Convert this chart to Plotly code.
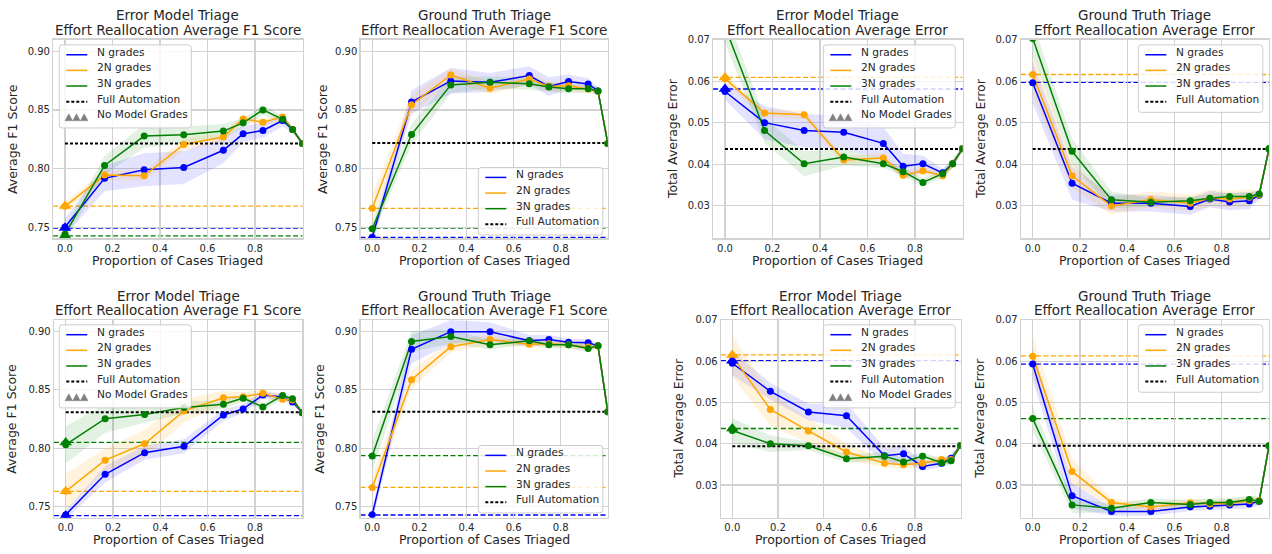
import plotly.graph_objects as go

W, H = 1272, 554
TB = 3.0  # plotly draws centred text slightly low; lift text centres by this many px

# ---------------- data ----------------
x_prop = [0, 1/6, 1/3, 1/2, 2/3, 3/4, 5/6, 11/12, 23/24, 1.0]
x_ticks = [0.0, 0.2, 0.4, 0.6, 0.8]
f1_ticks = [0.75, 0.80, 0.85, 0.90]
err_ticks = [0.03, 0.04, 0.05, 0.06, 0.07]
series_names = ["N grades", "2N grades", "3N grades"]

# Panel 1: Error Model Triage, F1 (top)
p1_n = [0.7505, 0.7918, 0.7991, 0.8010, 0.8157, 0.8297, 0.8325, 0.8410, 0.8333, 0.8215]
p1_2n = [0.7680, 0.7946, 0.7940, 0.8207, 0.8269, 0.8424, 0.8396, 0.8441, 0.8333, 0.8215]
p1_3n = [0.7443, 0.8028, 0.8278, 0.8289, 0.8320, 0.8390, 0.8500, 0.8420, 0.8333, 0.8215]
p1_n_err = [0.007, 0.011, 0.014, 0.014, 0.011, 0.007, 0.006, 0.005, 0.003, 0.001]
p1_2n_err = [0.004, 0.004, 0.004, 0.005, 0.004, 0.003, 0.003, 0.003, 0.002, 0.001]
p1_3n_err = [0.005, 0.008, 0.010, 0.007, 0.006, 0.004, 0.004, 0.003, 0.002, 0.001]
p1_levels = [0.7496, 0.7682, 0.7429]
p1_full = 0.8215

# Panel 2: Ground Truth Triage, F1 (top)
p2_n = [0.7418, 0.8567, 0.8747, 0.8735, 0.8792, 0.8699, 0.8741, 0.8721, 0.8662, 0.8215]
p2_2n = [0.7663, 0.8544, 0.8797, 0.8685, 0.8763, 0.8699, 0.8705, 0.8679, 0.8660, 0.8215]
p2_3n = [0.7489, 0.8291, 0.8713, 0.8735, 0.8722, 0.8696, 0.8680, 0.8680, 0.8662, 0.8215]
p2_n_err = [0.006, 0.010, 0.011, 0.008, 0.008, 0.008, 0.006, 0.005, 0.003, 0.001]
p2_2n_err = [0.012, 0.008, 0.006, 0.005, 0.005, 0.004, 0.004, 0.004, 0.003, 0.001]
p2_3n_err = [0.006, 0.009, 0.007, 0.005, 0.005, 0.004, 0.004, 0.003, 0.003, 0.001]
p2_levels = [0.7415, 0.7663, 0.7494]
p2_full = 0.8218

# Panel 3: Error Model Triage, error (top)
p3_n = [0.0575, 0.0500, 0.0481, 0.0477, 0.0450, 0.0395, 0.0401, 0.0379, 0.0401, 0.0437]
p3_2n = [0.0606, 0.0523, 0.0519, 0.0410, 0.0415, 0.0373, 0.0384, 0.0372, 0.0401, 0.0437]
p3_3n = [0.0732, 0.0481, 0.0401, 0.0417, 0.0401, 0.0382, 0.0356, 0.0377, 0.0401, 0.0437]
p3_n_err = [0.002, 0.004, 0.004, 0.004, 0.004, 0.003, 0.002, 0.001, 0.001, 0.0005]
p3_2n_err = [0.001, 0.001, 0.001, 0.001, 0.001, 0.001, 0.001, 0.001, 0.001, 0.0005]
p3_3n_err = [0.004, 0.003, 0.003, 0.002, 0.001, 0.001, 0.001, 0.001, 0.001, 0.0005]
p3_levels = [0.0581, 0.0609, 0.0735]
p3_full = 0.04368

# Panel 4: Ground Truth Triage, error (top)
p4_n = [0.0596, 0.0354, 0.0306, 0.0306, 0.0298, 0.0316, 0.0309, 0.0312, 0.0325, 0.0437]
p4_2n = [0.0616, 0.0372, 0.0299, 0.0315, 0.0306, 0.0318, 0.0316, 0.0320, 0.0326, 0.0437]
p4_3n = [0.0703, 0.0431, 0.0314, 0.0308, 0.0312, 0.0318, 0.0322, 0.0322, 0.0328, 0.0437]
p4_n_err = [0.005, 0.004, 0.002, 0.002, 0.002, 0.002, 0.002, 0.002, 0.001, 0.0005]
p4_2n_err = [0.005, 0.003, 0.002, 0.002, 0.002, 0.002, 0.002, 0.002, 0.001, 0.0005]
p4_3n_err = [0.004, 0.003, 0.002, 0.001, 0.001, 0.001, 0.001, 0.001, 0.001, 0.0005]
p4_levels = [0.0597, 0.0616, 0.0703]
p4_full = 0.04368

# Panel 5: Error Model Triage, F1 (bottom)
p5_n = [0.7433, 0.7778, 0.7963, 0.8017, 0.8285, 0.8337, 0.8455, 0.8438, 0.8396, 0.8305]
p5_2n = [0.7632, 0.7899, 0.8039, 0.8320, 0.8432, 0.8440, 0.8470, 0.8420, 0.8412, 0.8305]
p5_3n = [0.8031, 0.8253, 0.8289, 0.8348, 0.8376, 0.8429, 0.8354, 0.8452, 0.8424, 0.8305]
p5_n_err = [0.004, 0.007, 0.006, 0.006, 0.005, 0.004, 0.003, 0.003, 0.002, 0.001]
p5_2n_err = [0.015, 0.010, 0.012, 0.010, 0.006, 0.004, 0.004, 0.003, 0.002, 0.001]
p5_3n_err = [0.016, 0.012, 0.007, 0.005, 0.004, 0.003, 0.003, 0.003, 0.002, 0.001]
p5_levels = [0.7424, 0.7632, 0.8050]
p5_full = 0.8309

# Panel 6: Ground Truth Triage, F1 (bottom)
p6_n = [0.7433, 0.8846, 0.8997, 0.8997, 0.8919, 0.8930, 0.8907, 0.8902, 0.8876, 0.8312]
p6_2n = [0.7666, 0.8587, 0.8868, 0.8930, 0.8890, 0.8893, 0.8885, 0.8865, 0.8874, 0.8312]
p6_3n = [0.7935, 0.8913, 0.8955, 0.8885, 0.8919, 0.8885, 0.8885, 0.8854, 0.8876, 0.8312]
p6_n_err = [0.006, 0.012, 0.010, 0.008, 0.005, 0.004, 0.003, 0.003, 0.002, 0.001]
p6_2n_err = [0.010, 0.008, 0.005, 0.004, 0.003, 0.003, 0.003, 0.003, 0.002, 0.001]
p6_3n_err = [0.013, 0.009, 0.006, 0.004, 0.003, 0.003, 0.003, 0.003, 0.002, 0.001]
p6_levels = [0.7430, 0.7666, 0.7938]
p6_full = 0.8312

# Panel 7: Error Model Triage, error (bottom)
p7_n = [0.0595, 0.0527, 0.0477, 0.0468, 0.0371, 0.0376, 0.0345, 0.0353, 0.0365, 0.0396]
p7_2n = [0.0612, 0.0483, 0.0431, 0.0380, 0.0353, 0.0349, 0.0353, 0.0362, 0.0362, 0.0396]
p7_3n = [0.0432, 0.0400, 0.0395, 0.0364, 0.0370, 0.0356, 0.0370, 0.0354, 0.0359, 0.0396]
p7_n_err = [0.003, 0.002, 0.002, 0.003, 0.002, 0.002, 0.001, 0.001, 0.001, 0.0005]
p7_2n_err = [0.005, 0.004, 0.003, 0.002, 0.001, 0.001, 0.001, 0.001, 0.001, 0.0005]
p7_3n_err = [0.003, 0.002, 0.001, 0.001, 0.001, 0.001, 0.001, 0.001, 0.001, 0.0005]
p7_levels = [0.0601, 0.0615, 0.0437]
p7_full = 0.0394

# Panel 8: Ground Truth Triage, error (bottom)
p8_n = [0.0593, 0.0274, 0.0236, 0.0236, 0.0247, 0.0249, 0.0252, 0.0254, 0.0261, 0.0395]
p8_2n = [0.0612, 0.0333, 0.0258, 0.0247, 0.0257, 0.0254, 0.0256, 0.0262, 0.0262, 0.0395]
p8_3n = [0.0461, 0.0252, 0.0244, 0.0258, 0.0253, 0.0258, 0.0258, 0.0265, 0.0261, 0.0395]
p8_n_err = [0.004, 0.003, 0.001, 0.001, 0.001, 0.001, 0.001, 0.001, 0.001, 0.0005]
p8_2n_err = [0.005, 0.003, 0.001, 0.001, 0.001, 0.001, 0.001, 0.001, 0.001, 0.0005]
p8_3n_err = [0.003, 0.002, 0.001, 0.001, 0.001, 0.001, 0.001, 0.001, 0.001, 0.0005]
p8_levels = [0.0593, 0.0613, 0.0461]
p8_full = 0.0395

# ---------------- style ----------------
FONT = "DejaVu Sans"
TXT = "#262626"
GRID = "#d2d2d2"
COLORS = ["#0000ff", "#ffa500", "#008000"]
BANDS = ["rgba(0,0,255,0.11)", "rgba(255,165,0,0.13)", "rgba(0,128,0,0.11)"]
F1_RANGE = [0.7407, 0.9098]
ERR_RANGE = [0.0221, 0.0700]
FULL_DASH = "3px,2px"

EM = "Error Model Triage"
GT = "Ground Truth Triage"
F1T = "Effort Reallocation Average F1 Score"
ERT = "Effort Reallocation Average Error"


def px(X):
    return X / W


def py(Y):
    return 1 - Y / H


panels = [
    dict(means=[p1_n, p1_2n, p1_3n], errs=[p1_n_err, p1_2n_err, p1_3n_err], levels=p1_levels, full=p1_full,
         tri=True, t1=EM, t2=F1T, kind="f1", box=(53.1, 302.5, 34, 235), ytx=15, leg=(59.3, 39.3)),
    dict(means=[p2_n, p2_2n, p2_3n], errs=[p2_n_err, p2_2n_err, p2_3n_err], levels=p2_levels, full=p2_full,
         tri=False, t1=GT, t2=F1T, kind="f1", box=(360.5, 607.8, 34, 235), ytx=325, leg=(478.3, 163.3)),
    dict(means=[p3_n, p3_2n, p3_3n], errs=[p3_n_err, p3_2n_err, p3_3n_err], levels=p3_levels, full=p3_full,
         tri=True, t1=EM, t2=ERT, kind="err", box=(713.1, 962.5, 34, 235), ytx=675, leg=(823.3, 39.3)),
    dict(means=[p4_n, p4_2n, p4_3n], errs=[p4_n_err, p4_2n_err, p4_3n_err], levels=p4_levels, full=p4_full,
         tri=False, t1=GT, t2=ERT, kind="err", box=(1020.9, 1269, 34, 235), ytx=983, leg=(1138.3, 39.3)),
    dict(means=[p5_n, p5_2n, p5_3n], errs=[p5_n_err, p5_2n_err, p5_3n_err], levels=p5_levels, full=p5_full,
         tri=True, t1=EM, t2=F1T, kind="f1", box=(53.9, 302.3, 317.3, 517.3), ytx=15, leg=(59.3, 322.3)),
    dict(means=[p6_n, p6_2n, p6_3n], errs=[p6_n_err, p6_2n_err, p6_3n_err], levels=p6_levels, full=p6_full,
         tri=False, t1=GT, t2=F1T, kind="f1", box=(360.5, 607.8, 317.3, 517.3), ytx=323, leg=(478.3, 444.3)),
    dict(means=[p7_n, p7_2n, p7_3n], errs=[p7_n_err, p7_2n_err, p7_3n_err], levels=p7_levels, full=p7_full,
         tri=True, t1=EM, t2=ERT, kind="err", box=(720.9, 960.6, 317.3, 517.3), ytx=682, leg=(823.3, 322.3)),
    dict(means=[p8_n, p8_2n, p8_3n], errs=[p8_n_err, p8_2n_err, p8_3n_err], levels=p8_levels, full=p8_full,
         tri=False, t1=GT, t2=ERT, kind="err", box=(1020.9, 1269, 317.3, 517.3), ytx=983, leg=(1138.3, 322.3)),
]

fig = go.Figure()
layout = dict(
    width=W, height=H, margin=dict(l=0, r=0, t=0, b=0),
    paper_bgcolor="white", plot_bgcolor="white",
    font=dict(family=FONT, color=TXT, size=10),
    showlegend=False,
)
annotations = []
shapes_below = []
legend_shapes = []

LEG_FONT = 10.6
LEG_STEP = 15.8


def rounded_box(x0, y0, x1, y1, r=3.0):
    X = lambda v: f"{px(v):.6f}"
    Y = lambda v: f"{py(v):.6f}"
    return (f"M {X(x0 + r)},{Y(y0)} L {X(x1 - r)},{Y(y0)} Q {X(x1)},{Y(y0)} {X(x1)},{Y(y0 + r)} "
            f"L {X(x1)},{Y(y1 - r)} Q {X(x1)},{Y(y1)} {X(x1 - r)},{Y(y1)} "
            f"L {X(x0 + r)},{Y(y1)} Q {X(x0)},{Y(y1)} {X(x0)},{Y(y1 - r)} "
            f"L {X(x0)},{Y(y0 + r)} Q {X(x0)},{Y(y0)} {X(x0 + r)},{Y(y0)} Z")


def triangle(cx, cy, w=7.5, h=7.0):
    return (f"M {px(cx - w / 2):.6f},{py(cy + h / 2):.6f} L {px(cx + w / 2):.6f},{py(cy + h / 2):.6f} "
            f"L {px(cx):.6f},{py(cy - h / 2):.6f} Z")


for i, p in enumerate(panels, start=1):
    sid = "" if i == 1 else str(i)
    xa, ya = "x" + sid, "y" + sid
    l, r, t, b = p["box"]
    xdom = [px(l), px(r)]
    ydom = [py(b), py(t)]
    f1 = p["kind"] == "f1"
    yr = F1_RANGE if f1 else ERR_RANGE
    yt = f1_ticks if f1 else err_ticks

    layout["xaxis" + sid] = dict(
        domain=xdom, range=[-0.05, 1.0], anchor=ya, autorange=False,
        tickvals=x_ticks, ticktext=[f"{v:.1f}" for v in x_ticks],
        showgrid=True, gridcolor=GRID, gridwidth=1.2, zeroline=False,
        showline=True, linecolor=GRID, linewidth=1.2, mirror=True, ticks="",
        tickfont=dict(size=10, color=TXT, family=FONT),
    )
    layout["yaxis" + sid] = dict(
        domain=ydom, range=yr, anchor=xa, autorange=False,
        tickvals=yt, ticktext=[f"{v:.2f}" for v in yt],
        showgrid=True, gridcolor=GRID, gridwidth=1.2, zeroline=False,
        showline=True, linecolor=GRID, linewidth=1.2, mirror=True, ticks="",
        tickfont=dict(size=10, color=TXT, family=FONT),
    )
    layout["yaxis" + str(8 + i)] = dict(
        overlaying=ya, side="right", anchor=xa, range=yr, autorange=False,
        tickvals=yt, showticklabels=False, ticks="outside", ticklen=3,
        tickwidth=1, tickcolor="#3a3a3a", showgrid=False, zeroline=False, showline=False,
    )

    for k in range(3):
        m, e = p["means"][k], p["errs"][k]
        lo = [a - d for a, d in zip(m, e)]
        hi = [a + d for a, d in zip(m, e)]
        fig.add_trace(go.Scatter(x=x_prop, y=lo, xaxis=xa, yaxis=ya, mode="lines",
                                 line=dict(width=0, color=BANDS[k]), hoverinfo="skip"))
        fig.add_trace(go.Scatter(x=x_prop, y=hi, xaxis=xa, yaxis=ya, mode="lines", fill="tonexty",
                                 fillcolor=BANDS[k], line=dict(width=0, color=BANDS[k]), hoverinfo="skip"))

    for k in range(3):
        shapes_below.append(dict(type="line", xref=xa + " domain", yref=ya, x0=0, x1=1,
                                 y0=p["levels"][k], y1=p["levels"][k], layer="below",
                                 line=dict(color=COLORS[k], width=1.3, dash="5px,2.5px")))

    for k in range(3):
        fig.add_trace(go.Scatter(x=x_prop, y=p["means"][k], xaxis=xa, yaxis=ya, mode="lines",
                                 line=dict(color=COLORS[k], width=1.5), name=series_names[k]))
    fig.add_trace(go.Scatter(x=[x_prop[0], x_prop[-1]], y=[p["full"], p["full"]], xaxis=xa, yaxis=ya,
                             mode="lines", line=dict(color="black", width=2, dash=FULL_DASH),
                             name="Full Automation"))
    for k in range(3):
        fig.add_trace(go.Scatter(x=x_prop, y=p["means"][k], xaxis=xa, yaxis=ya, mode="markers",
                                 marker=dict(color=COLORS[k], size=7), name=series_names[k]))
    if p["tri"]:
        fig.add_trace(go.Scatter(x=[x_prop[0]] * 3, y=p["levels"], xaxis=xa, yaxis=ya, mode="markers",
                                 marker=dict(color=COLORS, size=11, symbol="triangle-up"),
                                 name="No Model Grades"))

    # ---- legend box ----
    entries = [("line", COLORS[k], series_names[k]) for k in range(3)]
    entries.append(("full", "black", "Full Automation"))
    if p["tri"]:
        entries.append(("tri", "#808080", "No Model Grades"))
    n = len(entries)
    lx0, ly0 = p["leg"]
    lw = 132.0 if p["tri"] else 124.5
    lh = LEG_STEP * n + 5
    legend_shapes.append(dict(type="path", xref="paper", yref="paper",
                              path=rounded_box(lx0, ly0, lx0 + lw, ly0 + lh),
                              fillcolor="rgba(255,255,255,0.82)", line=dict(color="#cccccc", width=1)))
    for j, (kind, col, label) in enumerate(entries):
        cy = ly0 + 10 + LEG_STEP * j
        if kind == "line":
            legend_shapes.append(dict(type="line", xref="paper", yref="paper",
                                      x0=px(lx0 + 7), x1=px(lx0 + 28), y0=py(cy), y1=py(cy),
                                      line=dict(color=col, width=1.5)))
        elif kind == "full":
            legend_shapes.append(dict(type="line", xref="paper", yref="paper",
                                      x0=px(lx0 + 7), x1=px(lx0 + 28), y0=py(cy), y1=py(cy),
                                      line=dict(color=col, width=2, dash=FULL_DASH)))
        else:
            for dx in (9.5, 17.2, 24.9):
                legend_shapes.append(dict(type="path", xref="paper", yref="paper",
                                          path=triangle(lx0 + dx, cy), fillcolor=col,
                                          line=dict(color=col, width=0.5)))
        annotations.append(dict(text=label, x=px(lx0 + 36), y=py(cy - TB), xref="paper", yref="paper",
                                xanchor="left", yanchor="middle", showarrow=False,
                                font=dict(family=FONT, size=LEG_FONT, color=TXT)))

    cx = px((l + r) / 2)
    annotations.append(dict(text=p["t1"], x=cx, y=py(t - 21.5 - TB), xref="paper", yref="paper",
                            xanchor="center", yanchor="middle", showarrow=False,
                            font=dict(family=FONT, size=13.5, color=TXT)))
    annotations.append(dict(text=p["t2"], x=cx, y=py(t - 6.5 - TB), xref="paper", yref="paper",
                            xanchor="center", yanchor="middle", showarrow=False,
                            font=dict(family=FONT, size=13.5, color=TXT)))
    annotations.append(dict(text="Proportion of Cases Triaged", x=cx, y=py(b + 25 - TB),
                            xref="paper", yref="paper", xanchor="center", yanchor="middle",
                            showarrow=False, font=dict(family=FONT, size=12.5, color=TXT)))
    annotations.append(dict(text="Average F1 Score" if f1 else "Total Average Error",
                            x=px(p["ytx"] - TB), y=py((t + b) / 2), xref="paper", yref="paper",
                            xanchor="center", yanchor="middle", textangle=-90, showarrow=False,
                            font=dict(family=FONT, size=12.5, color=TXT)))

layout["annotations"] = annotations
layout["shapes"] = shapes_below + legend_shapes
fig.update_layout(**layout)
fig.write_html(
    "out.html",
    config={"staticPlot": True, "displayModeBar": False},
    post_script=("document.body.style.margin='0px';"
                 "document.documentElement.style.overflow='hidden';"
                 "document.body.style.overflow='hidden';"),
)
